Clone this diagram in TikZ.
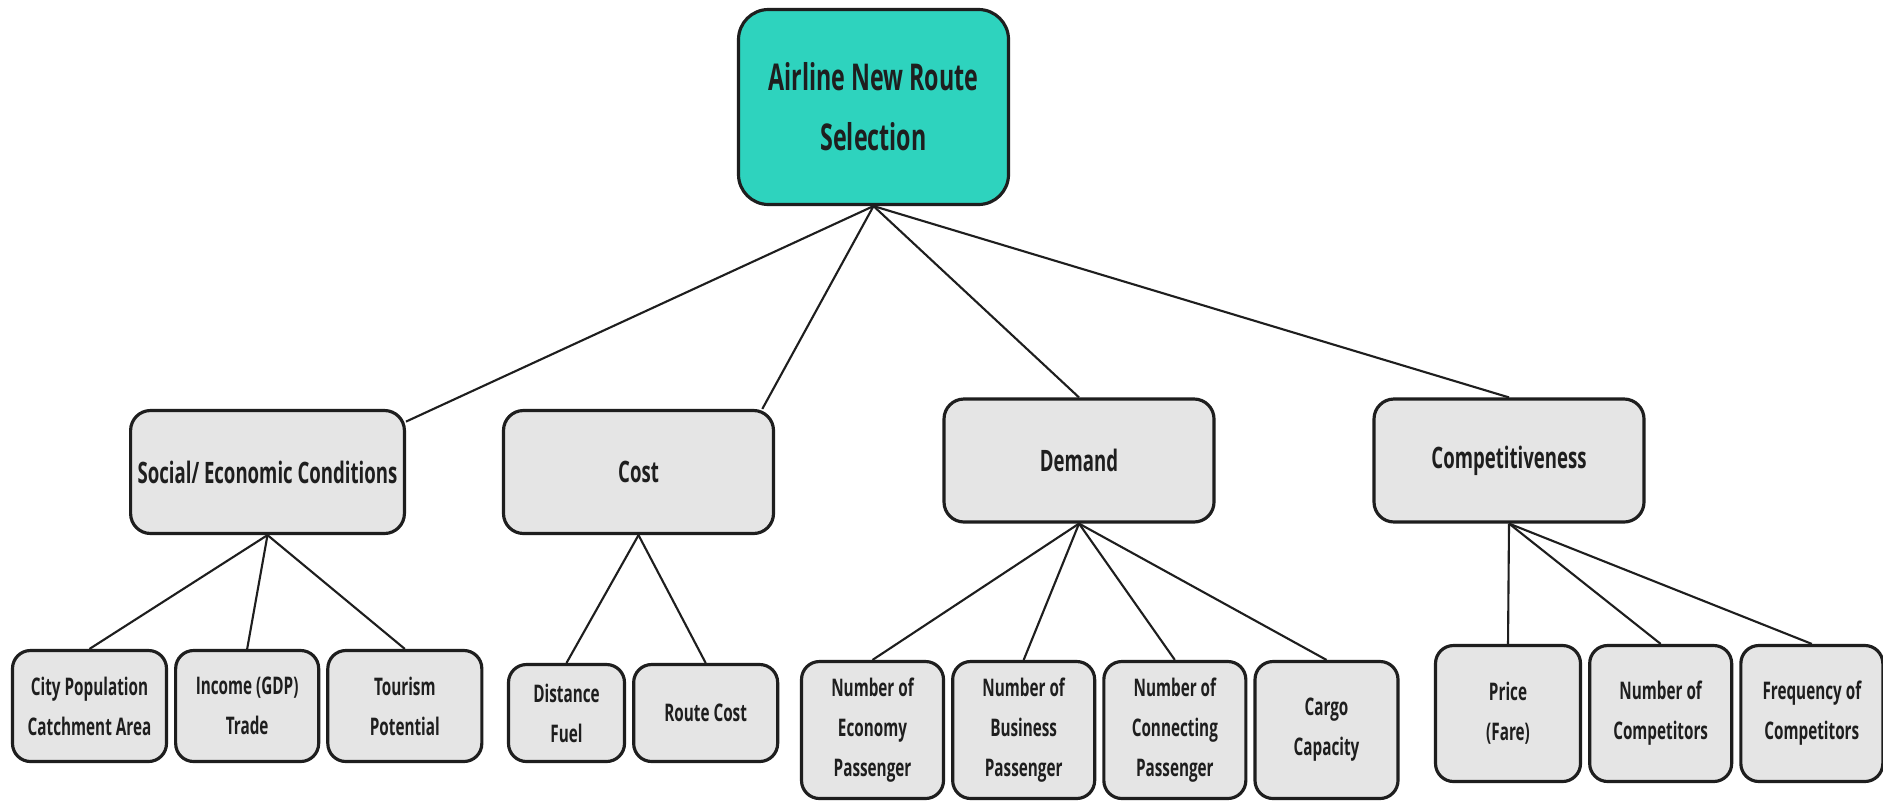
\documentclass[tikz,border=0pt]{standalone}
\usepackage{fontspec}
\setmainfont{Open Sans}[FakeStretch=0.63]
\usepackage{tikz}
\usetikzlibrary{shapes, positioning, backgrounds}
\definecolor{routeteal}{HTML}{2ED3BE}
\definecolor{boxgrey}{HTML}{E5E5E5}
\definecolor{inkdark}{HTML}{1E1E1E}
\tikzstyle{goalbox} = [rectangle, rounded corners=0.3cm, minimum width=2.7cm, minimum height=1.95cm, align=center, draw=inkdark, line width=0.9pt, fill=routeteal, text=inkdark, font=\fontsize{10.5}{17}\selectfont\bfseries]
\tikzstyle{factorbox} = [rectangle, rounded corners=0.2cm, minimum width=2.7cm, minimum height=1.23cm, inner xsep=2pt, align=center, draw=inkdark, line width=0.9pt, fill=boxgrey, text=inkdark, font=\fontsize{8.4}{14}\selectfont\bfseries]
\tikzstyle{itembox} = [rectangle, rounded corners=0.18cm, minimum width=1.42cm, inner xsep=2pt, align=center, draw=inkdark, line width=0.9pt, fill=boxgrey, text=inkdark, font=\fontsize{6.9}{11.4}\selectfont\bfseries]
\tikzstyle{link} = [draw=inkdark, line width=0.6pt]

\begin{document}
\begin{tikzpicture}[node distance=0.06cm]

    \path [use as bounding box, fill=white] (0, 0) rectangle (18.83, -8.02);

    % top goal and the four factors
    \node (goal) [goalbox] at (8.735, -1.07) {Airline New Route\\Selection};
    \node (social) [factorbox] at (2.675, -4.72) {Social/ Economic Conditions};
    \node (cost) [factorbox] at (6.385, -4.72) {Cost};
    \node (demand) [factorbox] at (10.79, -4.605) {Demand};
    \node (comp) [factorbox] at (15.09, -4.605) {Competitiveness};

    % sub factors
    \node (city) [itembox, minimum width=1.54cm, minimum height=1.11cm] at (0.895, -7.06) {City Population\\Catchment Area};
    \node (income) [itembox, minimum width=1.43cm, minimum height=1.11cm, right=of city] {Income (GDP)\\Trade};
    \node (tourism) [itembox, minimum width=1.54cm, minimum height=1.11cm, right=of income] {Tourism\\Potential};

    \node (distance) [itembox, minimum width=1.16cm, minimum height=0.97cm] at (5.665, -7.13) {Distance\\Fuel};
    \node (route) [itembox, minimum width=1.44cm, minimum height=0.97cm, right=of distance] {Route Cost};

    \node (economy) [itembox, minimum height=1.37cm] at (8.725, -7.3) {Number of\\Economy\\Passenger};
    \node (business) [itembox, minimum height=1.37cm, right=of economy] {Number of\\Business\\Passenger};
    \node (connecting) [itembox, minimum height=1.37cm, right=of business] {Number of\\Connecting\\Passenger};
    \node (cargo) [itembox, minimum width=1.43cm, minimum height=1.37cm, right=of connecting] {Cargo\\Capacity};

    \node (price) [itembox, minimum width=1.45cm, minimum height=1.36cm] at (15.08, -7.135) {Price\\(Fare)};
    \node (rivals) [itembox, minimum height=1.36cm, right=of price] {Number of\\Competitors};
    \node (frequency) [itembox, minimum height=1.36cm, right=of rivals] {Frequency of\\Competitors};

    \draw [link] (goal.south) -- (social.20);
    \draw [link] (goal.south) -- (cost.27);
    \draw [link] (goal.south) -- (demand.north);
    \draw [link] (goal.south) -- (comp.north);

    \foreach \sub in {city, income, tourism}
        \draw [link] (social.south) -- (\sub.north);
    \foreach \sub in {distance, route}
        \draw [link] (cost.south) -- (\sub.north);
    \foreach \sub in {economy, business, connecting, cargo}
        \draw [link] (demand.south) -- (\sub.north);
    \foreach \sub in {price, rivals, frequency}
        \draw [link] (comp.south) -- (\sub.north);

\end{tikzpicture}
\end{document}
